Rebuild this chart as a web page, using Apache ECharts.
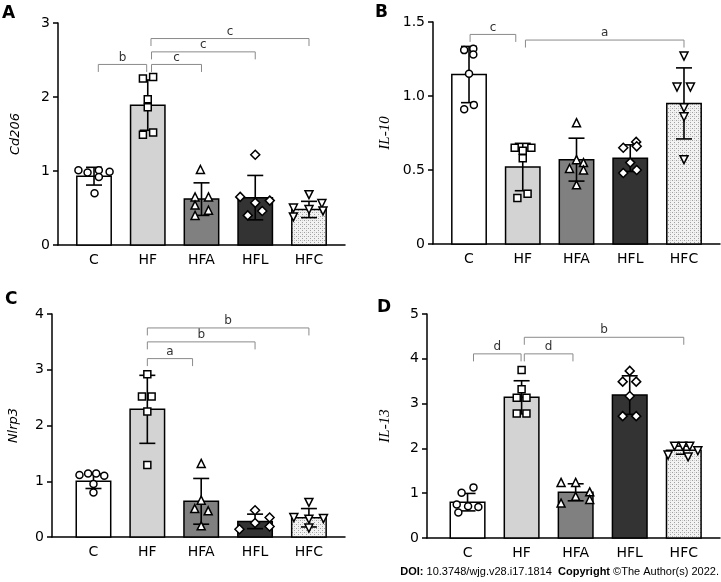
<!DOCTYPE html>
<html>
<head>
<meta charset="utf-8">
<script src="https://cdn.jsdelivr.net/npm/echarts@6/dist/echarts.min.js"></script>
<style>
    html, body { margin: 0; padding: 0; background: #fff; }
    #main { width: 721px; height: 582px; }
</style>
</head>
<body>
<div id="main"></div>
<script type="text/javascript">
    var groups = ['C', 'HF', 'HFA', 'HFL', 'HFC'];

    // A - Cd206
    var cd206Mean = [0.93, 1.89, 0.62, 0.64, 0.48];
    var cd206Sd = [0.12, 0.34, 0.22, 0.30, 0.11];
    var cd206Points = [
        [1.01, 0.98, 1.01, 0.92, 0.99, 0.70],
        [2.25, 2.27, 1.97, 1.86, 1.49, 1.52],
        [1.02, 0.65, 0.65, 0.54, 0.47, 0.40],
        [1.22, 0.65, 0.57, 0.60, 0.40, 0.46],
        [0.68, 0.50, 0.38, 0.48, 0.56, 0.46]
    ];
    // dot offsets from the bar centre, in category units
    var cd206Jitter = [
        [-0.29, -0.12, 0.09, 0.09, 0.29, 0.01],
        [-0.09, 0.1, 0, 0, -0.09, 0.1],
        [-0.02, -0.12, 0.13, -0.12, 0.13, -0.12],
        [0, -0.28, 0, 0.27, -0.14, 0.13],
        [0, -0.29, -0.29, 0, 0.24, 0.26]
    ];
    var cd206Sig = [['b', 0.08, 0.98, 2.44], ['c', 1.07, 2.0, 2.44], ['c', 1.07, 3.0, 2.61], ['c', 1.06, 4.0, 2.79]];

    // B - IL-10
    var il10Mean = [1.145, 0.52, 0.57, 0.58, 0.95];
    var il10Sd = [0.19, 0.16, 0.145, 0.09, 0.24];
    var il10Points = [
        [1.31, 1.32, 1.28, 1.15, 0.91, 0.94],
        [0.65, 0.63, 0.65, 0.58, 0.31, 0.34],
        [0.82, 0.57, 0.51, 0.55, 0.50, 0.40],
        [0.69, 0.65, 0.66, 0.48, 0.50, 0.55],
        [1.27, 1.06, 1.06, 0.92, 0.86, 0.57]
    ];
    var il10Jitter = [
        [-0.09, 0.08, 0.08, 0, -0.09, 0.09],
        [-0.15, 0, 0.16, 0, -0.1, 0.09],
        [0, 0, -0.13, 0.13, 0.13, 0],
        [0.11, -0.13, 0.12, -0.13, 0.12, 0],
        [0, -0.13, 0.12, 0, 0, 0]
    ];
    var il10Sig = [['c', 0.02, 0.87, 1.416], ['a', 1.05, 4.0, 1.378]];

    // C - Nlrp3
    var nlrp3Mean = [1.00, 2.29, 0.64, 0.28, 0.345];
    var nlrp3Sd = [0.13, 0.61, 0.41, 0.13, 0.165];
    var nlrp3Points = [
        [1.11, 1.14, 1.14, 1.10, 0.95, 0.80],
        [2.92, 2.52, 2.52, 2.25, 1.29],
        [1.32, 0.66, 0.51, 0.47, 0.20],
        [0.48, 0.35, 0.25, 0.19, 0.14],
        [0.62, 0.35, 0.33, 0.32, 0.16]
    ];
    var nlrp3Jitter = [
        [-0.26, -0.1, 0.05, 0.2, 0, 0],
        [0, -0.1, 0.08, 0, 0],
        [0, 0, -0.12, 0.13, 0],
        [0, 0.27, 0, 0.27, -0.29],
        [0, -0.28, 0.27, 0, 0]
    ];
    var nlrp3Sig = [['a', 1.0, 1.84, 3.20], ['b', 1.0, 3.0, 3.50], ['b', 1.0, 4.0, 3.75]];

    // D - IL-13
    var il13Mean = [0.80, 3.14, 1.02, 3.19, 1.96];
    var il13Sd = [0.195, 0.37, 0.19, 0.43, 0.09];
    var il13Points = [
        [1.01, 1.13, 0.75, 0.71, 0.69, 0.57],
        [3.75, 3.32, 3.13, 3.13, 2.78, 2.78],
        [1.24, 1.24, 1.03, 0.93, 0.78, 0.86],
        [3.73, 3.49, 3.49, 3.17, 2.72, 2.72],
        [1.85, 2.05, 2.05, 2.05, 1.95, 1.81]
    ];
    var il13Jitter = [
        [-0.11, 0.11, -0.2, 0.01, 0.2, -0.17],
        [0, 0, -0.09, 0.09, -0.09, 0.09],
        [-0.27, 0, 0.26, 0, -0.27, 0.26],
        [0, -0.13, 0.12, 0, -0.13, 0.12],
        [-0.29, -0.17, -0.02, 0.11, 0.26, 0.08]
    ];
    var il13Sig = [['d', 0.11, 0.99, 4.11], ['d', 1.05, 1.95, 4.11], ['b', 1.05, 4.0, 4.48]];

    // dotted fill for the HFC bars
    var stipple = document.createElement('canvas');
    stipple.width = 4; stipple.height = 4;
    var sctx = stipple.getContext('2d');
    sctx.fillStyle = '#f2f2f2';
    sctx.fillRect(0, 0, 4, 4);
    sctx.fillStyle = '#a0a0a0';
    sctx.fillRect(0, 0, 1, 1);
    sctx.fillRect(2, 2, 1, 1);
    sctx.fillStyle = '#cccccc';
    sctx.fillRect(2, 0, 1, 1);

    var barFill = ['#ffffff', '#d3d3d3', '#808080', '#333333', { image: stipple, repeat: 'repeat' }];
    var symbols = ['circle', 'rect', 'triangle', 'diamond', 'triangle'];
    var symbolRot = [0, 0, 0, 0, 180];
    var symbolSz = [7, 7, 8, 9, 8];

    var panels = [
        { name: 'Cd206', max: 3, interval: 1, mean: cd206Mean, sd: cd206Sd, pts: cd206Points, jit: cd206Jitter, sig: cd206Sig,
          grid: { left: 58, top: 23, width: 287, height: 222 }, xmin: -0.67, gap: 36, font: 'DejaVu Sans', nsize: 13 },
        { name: 'IL-10', max: 1.5, interval: 0.5, mean: il10Mean, sd: il10Sd, pts: il10Points, jit: il10Jitter, sig: il10Sig,
          grid: { left: 433, top: 22, width: 287, height: 222 }, xmin: -0.67, gap: 40, font: 'Liberation Serif', nsize: 15 },
        { name: 'Nlrp3', max: 4, interval: 1, mean: nlrp3Mean, sd: nlrp3Sd, pts: nlrp3Points, jit: nlrp3Jitter, sig: nlrp3Sig,
          grid: { left: 52, top: 314, width: 293, height: 223 }, xmin: -0.77, gap: 32, font: 'DejaVu Sans', nsize: 13 },
        { name: 'IL-13', max: 5, interval: 1, mean: il13Mean, sd: il13Sd, pts: il13Points, jit: il13Jitter, sig: il13Sig,
          grid: { left: 427, top: 314, width: 293, height: 224 }, xmin: -0.75, gap: 34, font: 'Liberation Serif', nsize: 15 }
    ];

    var grids = [], xAxes = [], yAxes = [], series = [];

    panels.forEach(function (p, k) {
        grids.push(p.grid);
        xAxes.push({
            gridIndex: k,
            type: 'value',
            min: p.xmin,
            max: 4.67,
            axisLine: { onZero: false, lineStyle: { color: '#000', width: 1.5 } },
            axisTick: { show: false },
            splitLine: { show: false },
            axisLabel: {
                customValues: [0, 1, 2, 3, 4],
                formatter: function (v) { return groups[Math.round(v)]; },
                color: '#000', fontSize: 14, fontFamily: 'DejaVu Sans', margin: 8
            }
        });
        yAxes.push({
            gridIndex: k,
            type: 'value',
            min: 0,
            max: p.max,
            interval: p.interval,
            name: p.name,
            nameLocation: 'middle',
            nameGap: p.gap,
            nameTextStyle: { fontStyle: 'italic', fontSize: p.nsize, color: '#000', fontFamily: p.font },
            axisLine: { show: true, onZero: false, lineStyle: { color: '#000', width: 1.5 } },
            axisTick: { show: true, length: 5, lineStyle: { color: '#000', width: 1.5 } },
            splitLine: { show: false },
            axisLabel: {
                color: '#000', fontSize: 14, fontFamily: 'DejaVu Sans', margin: 8,
                formatter: function (v) { return p.interval < 1 && v !== 0 ? v.toFixed(1) : String(v); }
            }
        });

        // bars + error bars
        series.push({
            type: 'custom',
            xAxisIndex: k,
            yAxisIndex: k,
            z: 2,
            data: p.mean.map(function (m, i) { return [i, m, p.sd[i]]; }),
            renderItem: function (params, api) {
                var i = api.value(0), m = api.value(1), s = api.value(2);
                var top = api.coord([i, m]);
                var base = api.coord([i, 0]);
                var hi = api.coord([i, m + s]);
                var lo = api.coord([i, m - s]);
                var w = api.size([0.64, 0])[0];
                var cap = 8;
                var ln = { stroke: '#000', lineWidth: 1.6 };
                return {
                    type: 'group',
                    children: [
                        { type: 'rect', shape: { x: top[0] - w / 2, y: top[1], width: w, height: base[1] - top[1] },
                          style: { fill: barFill[params.dataIndex], stroke: '#000', lineWidth: 1.5 } },
                        { type: 'line', shape: { x1: top[0], y1: hi[1], x2: top[0], y2: lo[1] }, style: ln },
                        { type: 'line', shape: { x1: top[0] - cap, y1: hi[1], x2: top[0] + cap, y2: hi[1] }, style: ln },
                        { type: 'line', shape: { x1: top[0] - cap, y1: lo[1], x2: top[0] + cap, y2: lo[1] }, style: ln }
                    ]
                };
            }
        });

        // individual animals
        var dots = [];
        p.pts.forEach(function (vals, g) {
            vals.forEach(function (v, j) {
                dots.push({
                    value: [g + p.jit[g][j], v],
                    symbol: symbols[g],
                    symbolRotate: symbolRot[g],
                    symbolSize: symbolSz[g]
                });
            });
        });
        series.push({
            type: 'scatter',
            xAxisIndex: k,
            yAxisIndex: k,
            z: 4,
            data: dots,
            itemStyle: { color: '#fff', borderColor: '#000', borderWidth: 1.5, opacity: 1 }
        });

        // significance brackets
        series.push({
            type: 'custom',
            xAxisIndex: k,
            yAxisIndex: k,
            z: 3,
            data: p.sig.map(function (s) { return [s[1], s[2], s[3]]; }),
            renderItem: function (params, api) {
                var a = api.coord([api.value(0), api.value(2)]);
                var b = api.coord([api.value(1), api.value(2)]);
                var drop = 7.5;
                return {
                    type: 'group',
                    children: [
                        { type: 'polyline',
                          shape: { points: [[a[0], a[1] + drop], [a[0], a[1]], [b[0], b[1]], [b[0], b[1] + drop]] },
                          style: { stroke: '#8a8a8a', lineWidth: 1, fill: null } },
                        { type: 'text',
                          style: { text: p.sig[params.dataIndex][0], x: (a[0] + b[0]) / 2, y: a[1] - 1,
                                   align: 'center', verticalAlign: 'bottom', fill: '#333',
                                   font: '12px "DejaVu Sans"' } }
                    ]
                };
            }
        });
    });

    var myChart = echarts.init(document.getElementById('main'));
    var option = {
        animation: false,
        backgroundColor: '#fff',
        grid: grids,
        xAxis: xAxes,
        yAxis: yAxes,
        series: series,
        graphic: [
            { type: 'text', left: 2, top: 5, style: { text: 'A', font: 'bold 17px "DejaVu Sans"', fill: '#000' } },
            { type: 'text', left: 375, top: 4, style: { text: 'B', font: 'bold 17px "DejaVu Sans"', fill: '#000' } },
            { type: 'text', left: 5, top: 291, style: { text: 'C', font: 'bold 17px "DejaVu Sans"', fill: '#000' } },
            { type: 'text', left: 377, top: 299, style: { text: 'D', font: 'bold 17px "DejaVu Sans"', fill: '#000' } },
            {
                type: 'text', right: 2, top: 566,
                style: {
                    text: '{b|DOI:} 10.3748/wjg.v28.i17.1814  {b|Copyright} ©The Author(s) 2022.',
                    font: '11px "Liberation Sans"',
                    fill: '#000',
                    rich: { b: { fontWeight: 'bold', fontSize: 11, fontFamily: 'Liberation Sans' } }
                }
            }
        ]
    };
    myChart.setOption(option);
</script>
</body>
</html>
